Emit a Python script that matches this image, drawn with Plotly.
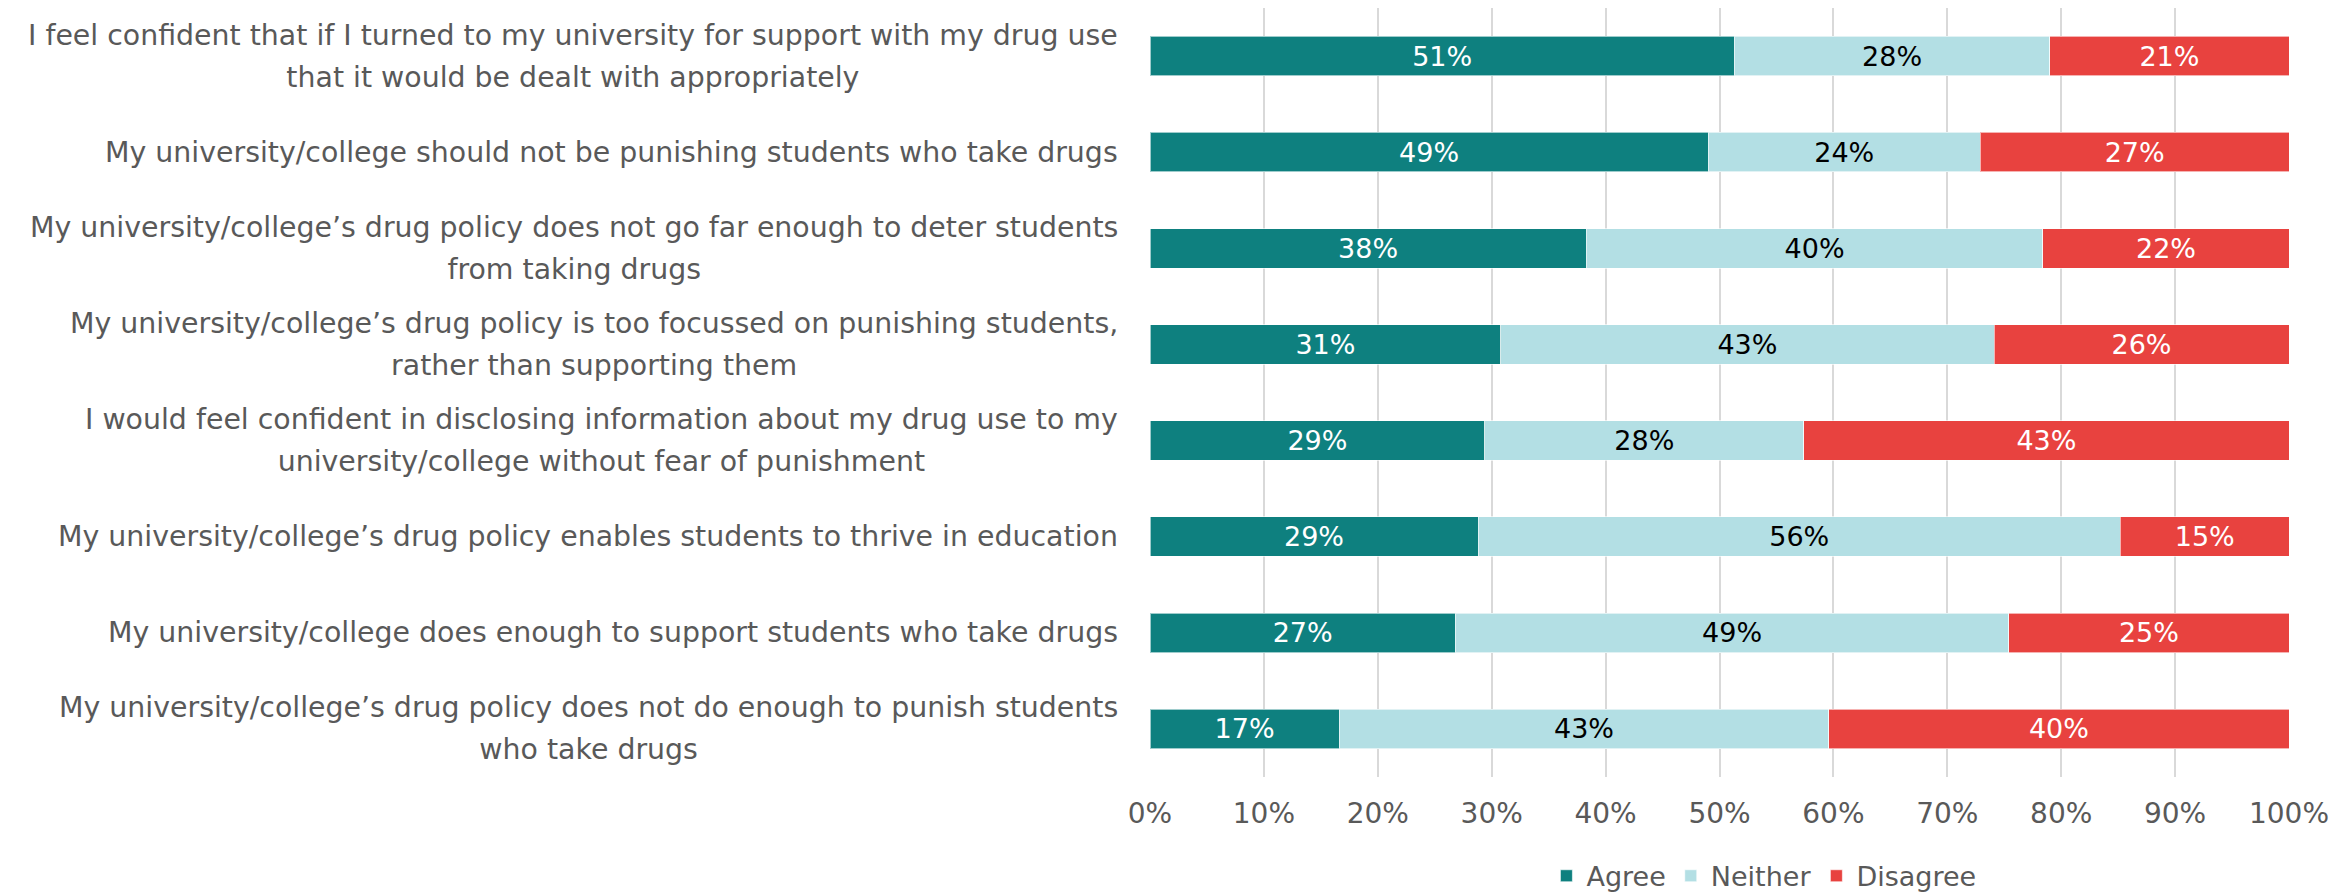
import plotly.graph_objects as go

categories = [
    "I feel confident that if I turned to my university for support with my drug use<br>that it would be dealt with appropriately",
    "My university/college should not be punishing students who take drugs",
    "My university/college’s drug policy does not go far enough to deter students<br>from taking drugs",
    "My university/college’s drug policy is too focussed on punishing students,<br>rather than supporting them",
    "I would feel confident in disclosing information about my drug use to my<br>university/college without fear of punishment",
    "My university/college’s drug policy enables students to thrive in education",
    "My university/college does enough to support students who take drugs",
    "My university/college’s drug policy does not do enough to punish students<br>who take drugs",
]
agree = [51.3, 49.0, 38.3, 30.8, 29.4, 28.8, 26.8, 16.6]
neither = [27.7, 23.9, 40.1, 43.3, 28.0, 56.4, 48.6, 43.0]
disagree = [21.0, 27.1, 21.6, 25.9, 42.6, 14.8, 24.6, 40.4]
tick_vals = [0, 10, 20, 30, 40, 50, 60, 70, 80, 90, 100]
tick_text = ["0%", "10%", "20%", "30%", "40%", "50%", "60%", "70%", "80%", "90%", "100%"]

series = [
    ("Agree", agree, "#0E807F", "white"),
    ("Neither", neither, "#B3DFE4", "black"),
    ("Disagree", disagree, "#E8423F", "white"),
]

FONT = "DejaVu Sans"
fig = go.Figure()
for name, vals, color, tcolor in series:
    fig.add_trace(go.Bar(
        name=name, y=categories, x=vals, orientation="h",
        marker=dict(color=color, line=dict(color="rgba(255,255,255,0.6)", width=1)),
        texttemplate="%{x:.0f}%", textposition="inside", insidetextanchor="middle",
        textfont=dict(family=FONT, size=27, color=tcolor),
        constraintext="none",
    ))

for c in categories:
    styled = "<br>".join(
        "<span style='font-size:28.4px'>" + line + "</span>" for line in c.split("<br>")
    )
    fig.add_annotation(
        x=-0.026, xref="paper", y=c, yref="y", text=styled, showarrow=False,
        xanchor="right", yanchor="middle", align="center",
        font=dict(family=FONT, size=32, color="#595959"),
    )

fig.update_layout(
    barmode="stack", bargap=0.59,
    width=2351, height=894,
    margin=dict(l=1142, r=70, t=0, b=125),
    paper_bgcolor="white", plot_bgcolor="white",
    font=dict(family=FONT, color="#595959"),
    showlegend=True,
    legend=dict(
        orientation="h", x=0.539, xanchor="center", y=-0.129, yanchor="middle",
        font=dict(family=FONT, size=27, color="#595959"),
        traceorder="normal", itemwidth=30,
    ),
)
fig.update_xaxes(
    range=[0, 100], tickvals=tick_vals, ticktext=tick_text,
    showgrid=True, gridcolor="#D9D9D9", gridwidth=1.5,
    zeroline=False, showline=False,
    tickfont=dict(family=FONT, size=28, color="#595959"),
    ticklabelstandoff=17,
)
fig.update_yaxes(
    categoryorder="array", categoryarray=categories, autorange="reversed",
    showticklabels=False, showgrid=False, zeroline=False, showline=False,
)

fig.write_html("out.html")
